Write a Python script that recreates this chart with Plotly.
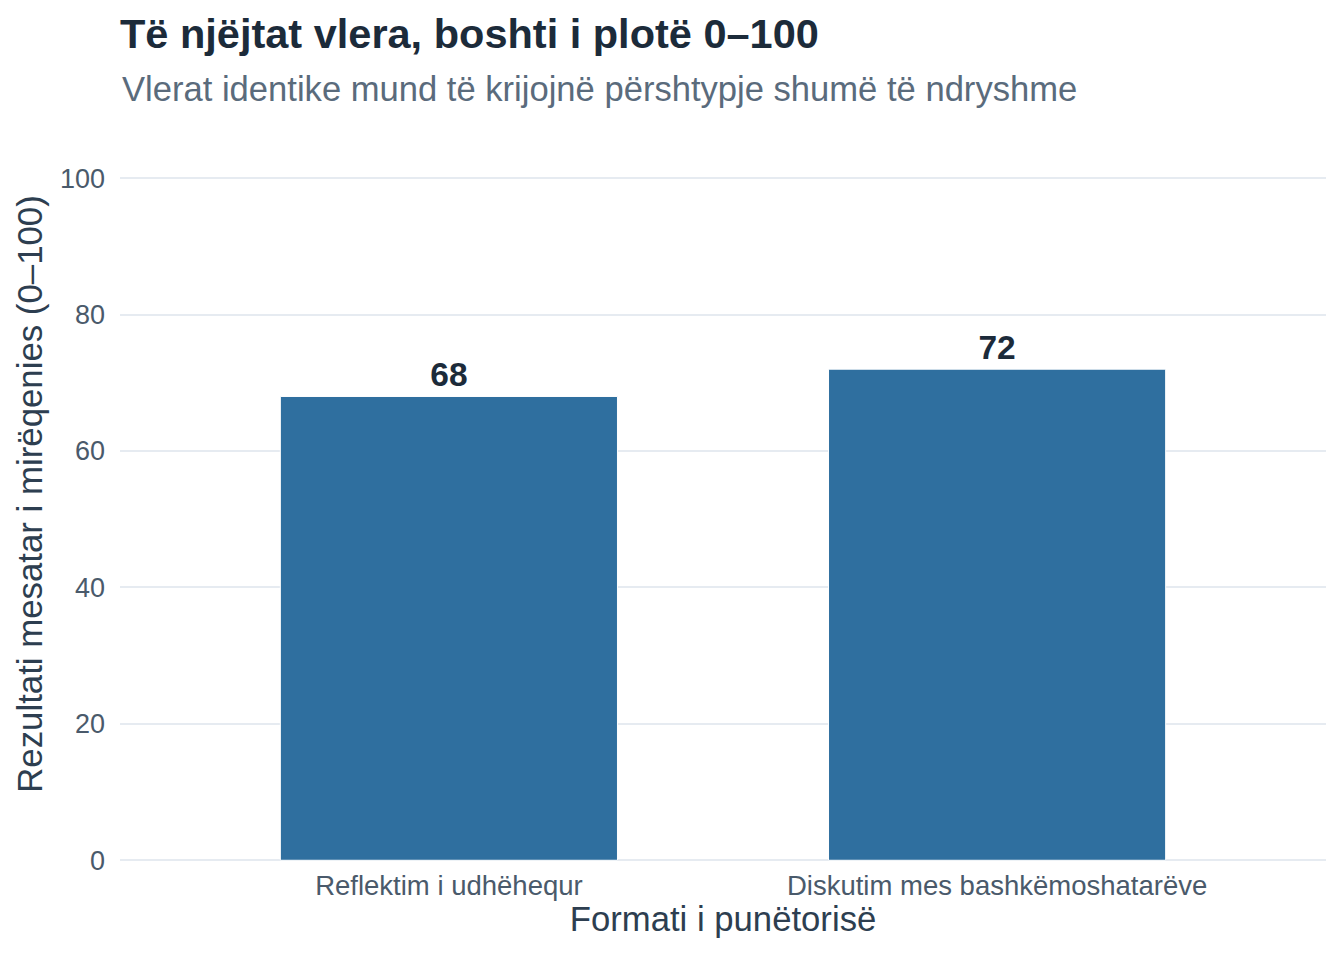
import plotly.graph_objects as go

categories = ["Reflektim i udhëhequr", "Diskutim mes bashkëmoshatarëve"]
scores = [68, 72]
y_ticks = [0, 20, 40, 60, 80, 100]

title_text = "Të njëjtat vlera, boshti i plotë 0–100"
subtitle_text = "Vlerat identike mund të krijojnë përshtypje shumë të ndryshme"
x_title = "Formati i punëtorisë"
y_title = "Rezultati mesatar i mirëqenies (0–100)"

FONT = "Liberation Sans, Arial, sans-serif"

# plot area (figure pixels); range goes a bit past 100 like the original panel
Y_MIN, Y_MAX = -0.4, 107.8
PX_PER_UNIT = 6.82
BOTTOM = 855
TOP = round(BOTTOM - (Y_MAX - Y_MIN) * PX_PER_UNIT)
H = 960

fig = go.Figure()
fig.add_trace(go.Bar(
    x=categories,
    y=scores,
    width=0.615,
    marker=dict(color="#2f6f9f", line=dict(color="white", width=1)),
    text=[str(v) for v in scores],
    textposition="outside",
    textfont=dict(family=FONT, size=33.5, color="#1c2b3a", weight="bold"),
    cliponaxis=False,
    hoverinfo="skip",
))

fig.update_layout(
    width=1344, height=H,
    margin=dict(l=112, r=26, t=TOP, b=H - BOTTOM),
    paper_bgcolor="white", plot_bgcolor="white",
    showlegend=False,
    font=dict(family=FONT),
    title=dict(
        text="<b>" + title_text + "</b>",
        x=112 / 1344, xanchor="left", xref="container",
        y=1 - 11 / H, yanchor="top", yref="container",
        font=dict(family=FONT, size=41.5, color="#1c2b3a"),
    ),
    annotations=[dict(
        text=subtitle_text,
        xref="paper", x=0, xanchor="left",
        yref="paper", y=(BOTTOM - 81.5) / (BOTTOM - TOP), yanchor="middle",
        showarrow=False,
        font=dict(family=FONT, size=34.6, color="#5a6b7c"),
    )],
    xaxis=dict(
        range=[-0.6, 1.6],
        showgrid=False, zeroline=False, showline=False,
        ticklabelstandoff=3,
        tickfont=dict(family=FONT, size=27.5, color="#4a5a6b"),
        title=dict(text=x_title, standoff=6,
                   font=dict(family=FONT, size=34.7, color="#2d3e50")),
    ),
    yaxis=dict(
        range=[Y_MIN, Y_MAX],
        tickvals=y_ticks,
        showgrid=True, gridcolor="#e6ebf1", gridwidth=2,
        zeroline=False, showline=False,
        ticklabelstandoff=14,
        tickfont=dict(family=FONT, size=27, color="#4a5a6b"),
        title=dict(text=y_title, standoff=6,
                   font=dict(family=FONT, size=34.8, color="#2d3e50")),
    ),
)

fig.write_html("out.html")
